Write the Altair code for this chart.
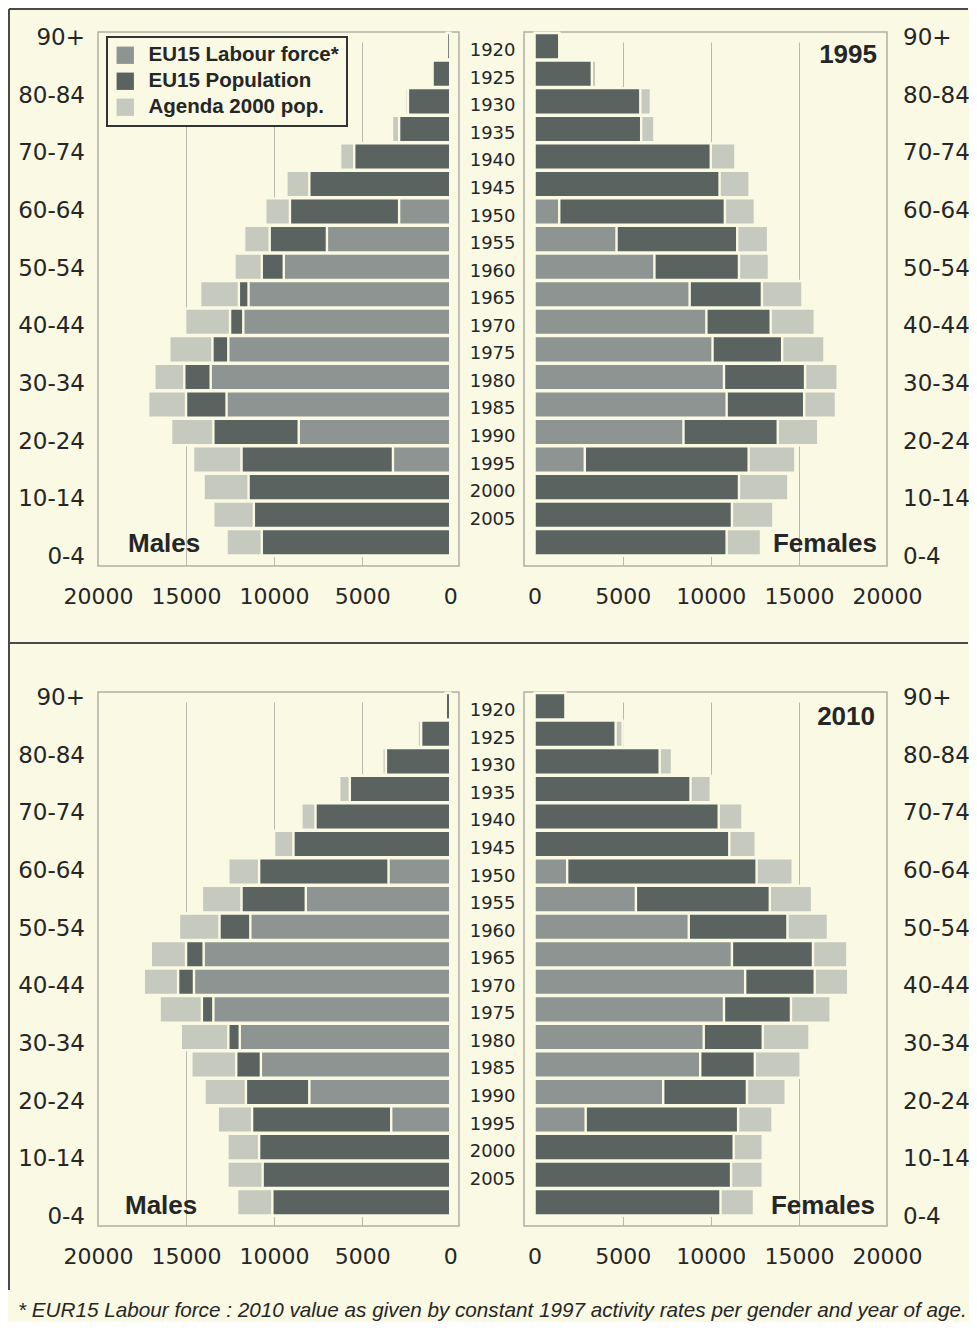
import json
import altair as alt
import pandas as pd

AGES = ['90+', '85-89', '80-84', '75-79', '70-74', '65-69', '60-64', '55-59', '50-54',
        '45-49', '40-44', '35-39', '30-34', '25-29', '20-24', '15-19', '10-14', '5-9', '0-4']
AGE_LABELS = ['90+', '80-84', '70-74', '60-64', '50-54', '40-44', '30-34', '20-24', '10-14', '0-4']
BIRTH_YEARS = ['1920', '1925', '1930', '1935', '1940', '1945', '1950', '1955', '1960',
               '1965', '1970', '1975', '1980', '1985', '1990', '1995', '2000', '2005', '']
SERIES = ['EU15 Labour force*', 'EU15 Population', 'Agenda 2000 pop.']
X_TICKS = [0, 5000, 10000, 15000, 20000]

# 1995
M95_AGENDA = [200, 1050, 2550, 3300, 6250, 9300, 10500, 11700, 12250, 14200, 15050, 15950,
              16800, 17150, 15850, 14600, 14000, 13450, 12700]
M95_POP = [180, 1000, 2400, 2900, 5450, 8000, 9100, 10250, 10700, 12000, 12500, 13500,
           15100, 15000, 13450, 11850, 11450, 11150, 10700]
M95_LAB = [0, 0, 0, 0, 0, 0, 2900, 7000, 9450, 11450, 11750, 12600, 13600, 12700, 8600, 3250, 0, 0, 0]
F95_AGENDA = [1400, 3500, 6600, 6800, 11400, 12200, 12500, 13250, 13300, 15200, 15900, 16450,
              17200, 17100, 16100, 14800, 14400, 13550, 12850]
F95_POP = [1400, 3250, 6000, 6050, 10000, 10500, 10800, 11500, 11600, 12900, 13400, 14050,
           15350, 15300, 13800, 12150, 11600, 11200, 10900]
F95_LAB = [0, 0, 0, 0, 0, 0, 1400, 4650, 6800, 8800, 9750, 10100, 10750, 10900, 8450, 2850, 0, 0, 0]

# 2010
M10_AGENDA = [250, 1850, 3850, 6300, 8450, 10000, 12600, 14100, 15400, 17000, 17400, 16500,
              15300, 14700, 13950, 13200, 12650, 12650, 12100]
M10_POP = [250, 1650, 3650, 5700, 7650, 8900, 10850, 11850, 13100, 15000, 15450, 14100,
           12600, 12150, 11600, 11250, 10850, 10650, 10100]
M10_LAB = [0, 0, 0, 0, 0, 0, 3500, 8200, 11350, 14000, 14550, 13450, 11950, 10750, 8000, 3350, 0, 0, 0]
F10_AGENDA = [1750, 5000, 7800, 10000, 11800, 12550, 14650, 15750, 16650, 17750, 17800, 16800,
              15600, 15100, 14250, 13500, 12950, 12950, 12450]
F10_POP = [1750, 4600, 7100, 8850, 10450, 11050, 12600, 13350, 14350, 15800, 15900, 14550,
           12950, 12500, 12050, 11550, 11300, 11150, 10550]
F10_LAB = [0, 0, 0, 0, 0, 0, 1850, 5750, 8750, 11200, 11950, 10750, 9600, 9400, 7300, 2900, 0, 0, 0]

FOOTNOTE = '* EUR15 Labour force : 2010 value as given by constant 1997 activity rates per gender and year of age.'

BG = '#f9f9e4'
TXT = '#262626'
C_LAB = '#8e9491'
C_POP = '#5a6360'
C_AG = '#c6c9be'
GRID = '#b9b9ae'
FRAME = '#aeafa4'
LINE = '#4a4a4a'

MW, FW, H = 361, 363, 534
PAD_L, PAD_T = 90, 24
SVG_W, SVG_H = 961, 1314


def long_df(agenda, pop, lab):
    rows = []
    for name, vals in ((SERIES[2], agenda), (SERIES[1], pop), (SERIES[0], lab)):
        for i, v in enumerate(vals):
            if v > 0:
                rows.append({'idx': i, 'age': AGES[i], 'series': name, 'value': v})
    return pd.DataFrame(rows)


def bar_layer(df, male, legend):
    xaxis = alt.Axis(values=X_TICKS, title=None, ticks=False, tickSize=0, domain=False,
                     format='d',
                     labelPadding=20, labelFont='DejaVu Sans', labelFontSize=22,
                     labelColor=TXT, labelFlush=False, labelOverlap=False,
                     grid=True, gridColor=GRID, gridWidth=1,
                     gridOpacity={'condition': {'test': 'datum.value === 0 || datum.value === 20000',
                                                'value': 0}, 'value': 1})
    if male:
        yaxis = None
    else:
        yaxis = alt.Axis(orient='left', title=None, ticks=False, domain=False, grid=False,
                         labelPadding=9, labelOffset=5, labelFont='DejaVu Sans',
                         labelFontSize=18, labelColor=TXT,
                         labelExpr=json.dumps(BIRTH_YEARS) + '[datum.value]')
    if legend:
        leg = alt.Legend(title=None, orient='none', legendX=9, legendY=5,
                         symbolType='square', symbolSize=300, symbolStrokeWidth=0,
                         labelFont='Liberation Sans', labelFontWeight='bold',
                         labelFontSize=20.5, labelColor=TXT, padding=8, rowPadding=5,
                         labelOffset=13, fillColor=BG, strokeColor='#333333',
                         labelLimit=300)
    else:
        leg = None
    return alt.Chart(df).mark_bar(stroke=BG, strokeWidth=2.4).encode(
        x=alt.X('value:Q', stack=None,
                scale=alt.Scale(domain=[-500 if male else -600, 20000], reverse=male,
                                nice=False, zero=False),
                axis=xaxis),
        y=alt.Y('idx:O', scale=alt.Scale(range=[0.5, 524], paddingInner=0.04,
                                         paddingOuter=0.02),
                axis=yaxis),
        color=alt.Color('series:N', scale=alt.Scale(domain=SERIES, range=[C_LAB, C_POP, C_AG]),
                        legend=leg),
    )


def age_layer(male):
    df = pd.DataFrame({'k': list(range(len(AGE_LABELS))), 'label': AGE_LABELS})
    return alt.Chart(df).mark_text(
        align='right' if male else 'left', baseline='middle', font='DejaVu Sans',
        fontSize=23, color=TXT
    ).encode(
        x=alt.value(-13 if male else FW + 16),
        y=alt.Y('k:Q', scale=alt.Scale(domain=[0, 9], range=[6, 525], nice=False, zero=False),
                axis=None),
        text='label:N',
    )


def label(text, x, y, align, size=26, weight='bold', style='normal', font='Liberation Sans'):
    return alt.Chart(pd.DataFrame({'t': [text]})).mark_text(
        align=align, baseline='middle', font=font, fontSize=size, fontWeight=weight,
        fontStyle=style, color=TXT
    ).encode(x=alt.value(x), y=alt.value(y), text='t:N')


def hrule(y, x1, x2):
    return alt.Chart(pd.DataFrame({'a': [0]})).mark_rule(
        color=LINE, strokeWidth=2, strokeJoin='bevel').encode(
        y=alt.value(y), x=alt.value(x1), x2=alt.value(x2))


def vrule(x, y1, y2):
    return alt.Chart(pd.DataFrame({'a': [0]})).mark_rule(
        color=LINE, strokeWidth=2, strokeJoin='bevel').encode(
        x=alt.value(x), y=alt.value(y1), y2=alt.value(y2))


male95 = alt.layer(
    bar_layer(long_df(M95_AGENDA, M95_POP, M95_LAB), True, True),
    age_layer(True),
    label('Males', 30, 512, 'left'),
    hrule(-23, -89, 870),
    hrule(611, -89, 870),
    vrule(-89, -23, 1258),
).resolve_scale(y='independent').properties(width=MW, height=H)

female95 = alt.layer(
    bar_layer(long_df(F95_AGENDA, F95_POP, F95_LAB), False, False),
    age_layer(False),
    label('Females', 353, 512, 'right'),
    label('1995', 353, 23, 'right'),
).resolve_scale(y='independent').properties(width=FW, height=H)

male10 = alt.layer(
    bar_layer(long_df(M10_AGENDA, M10_POP, M10_LAB), True, False),
    age_layer(True),
    label('Males', 27, 514, 'left'),
    label(FOOTNOTE, -80, 619, 'left', size=20.7, weight='normal', style='italic'),
).resolve_scale(y='independent').properties(width=MW, height=H)

female10 = alt.layer(
    bar_layer(long_df(F10_AGENDA, F10_POP, F10_LAB), False, False),
    age_layer(False),
    label('Females', 351, 514, 'right'),
    label('2010', 351, 25, 'right'),
).resolve_scale(y='independent').properties(width=FW, height=H)

chart = alt.concat(
    male95, female95, male10, female10,
    columns=2, spacing=alt.RowColnumber(row=126, column=65), bounds='flush'
).resolve_scale(
    color='independent'
).properties(
    autosize=alt.AutoSizeParams(type='none'),
    padding={'top': PAD_T, 'left': PAD_L, 'right': SVG_W - PAD_L, 'bottom': SVG_H - PAD_T}
).configure(background=BG).configure_view(
    stroke=FRAME, strokeWidth=1.5
).configure_legend(strokeWidth=2)

chart.save('out.html', embed_options={'renderer': 'svg', 'actions': False})
